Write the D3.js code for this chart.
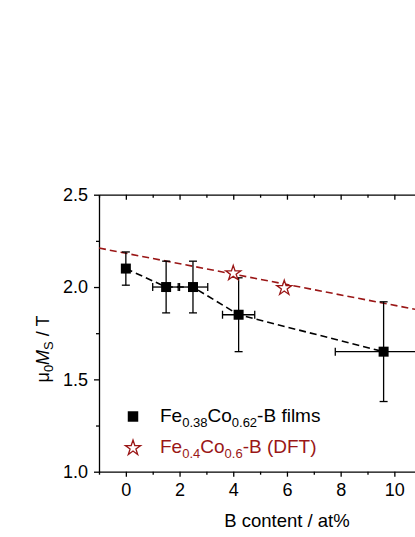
<!DOCTYPE html>
<html>
<head>
  <meta charset="UTF-8" />
  <title>Saturation magnetisation vs B content</title>
  <script src="https://d3js.org/d3.v7.min.js"></script>
  <style>
    body { margin: 0; background: #fff; }
    svg text { font-family: "Liberation Sans", Arial, sans-serif; }
  </style>
</head>
<body>
<div id="chart"></div>

<script>
  // measured films, Fe0.38Co0.62-B
  var filmB = [0, 1.5, 2.5, 4.2, 9.6];
  var filmMs = [2.10, 2.00, 2.00, 1.85, 1.65];
  var filmMsErr = [0.09, 0.14, 0.14, 0.20, 0.27];
  var filmBErr = [0, 0.5, 0.55, 0.6, 1.8];

  // DFT, Fe0.4Co0.6-B
  var dftB = [4.0, 5.9];
  var dftMs = [2.08, 2.00];
  // dashed guide for the DFT values
  var dftLineB = [-1, 11];
  var dftLineMs = [2.211, 1.873];

  var xMajor = [0, 2, 4, 6, 8, 10];
  var xMinor = [-1, 1, 3, 5, 7, 9, 11];
  var yMajor = [1.0, 1.5, 2.0, 2.5];
  var yMinor = [1.25, 1.75, 2.25];

  var wine = "#9a1616";

  var films = filmB.map((b, i) => ({ b: b, ms: filmMs[i], ey: filmMsErr[i], ex: filmBErr[i] }));
  var dft = dftB.map((b, i) => ({ b: b, ms: dftMs[i] }));
  var dftLine = dftLineB.map((b, i) => ({ b: b, ms: dftLineMs[i] }));

  const svg = d3.select("#chart")
    .append("svg")
    .attr("width", 415)
    .attr("height", 537)

  var xScale = d3.scaleLinear().domain([-1, 11]).range([99, 421.2]);
  var yScale = d3.scaleLinear().domain([1.0, 2.5]).range([471.7, 194.7]);

  // axes
  function styleAxis(g) {
    g.selectAll("path, line").attr("stroke", "#000").attr("stroke-width", 1.3);
    g.selectAll("text").attr("fill", "#000").style("font-size", "18px");
  }

  svg.append("g")
    .attr("transform", "translate(0," + yScale(1.0) + ")")
    .call(d3.axisBottom(xScale).tickValues(xMajor).tickSize(5).tickSizeOuter(0).tickPadding(7).tickFormat(d3.format("d")))
    .call(styleAxis);
  svg.append("g")
    .attr("transform", "translate(0," + yScale(1.0) + ")")
    .call(d3.axisBottom(xScale).tickValues(xMinor).tickSize(3).tickFormat(""))
    .call(styleAxis)
    .select(".domain").remove();

  // top axis, ticks pointing inside
  svg.append("g")
    .attr("transform", "translate(0," + yScale(2.5) + ")")
    .call(d3.axisBottom(xScale).tickValues(xMajor).tickSize(5).tickSizeOuter(0).tickFormat(""))
    .call(styleAxis);
  svg.append("g")
    .attr("transform", "translate(0," + yScale(2.5) + ")")
    .call(d3.axisBottom(xScale).tickValues(xMinor).tickSize(3).tickFormat(""))
    .call(styleAxis)
    .select(".domain").remove();

  svg.append("g")
    .attr("transform", "translate(" + xScale(-1) + ",0)")
    .call(d3.axisLeft(yScale).tickValues(yMajor).tickSize(5).tickSizeOuter(0).tickPadding(6).tickFormat(d3.format(".1f")))
    .call(styleAxis);
  svg.append("g")
    .attr("transform", "translate(" + xScale(-1) + ",0)")
    .call(d3.axisLeft(yScale).tickValues(yMinor).tickSize(3).tickFormat(""))
    .call(styleAxis)
    .select(".domain").remove();

  // axis titles
  svg.append("text")
    .attr("x", xScale(6))
    .attr("y", 527)
    .attr("text-anchor", "middle")
    .style("font-size", "18.5px")
    .text("B content / at%");

  var yTitle = svg.append("text")
    .attr("transform", "translate(49,349) rotate(-90)")
    .attr("text-anchor", "middle")
    .style("font-size", "18px");
  yTitle.append("tspan").text("\u03bc");
  yTitle.append("tspan").attr("dy", 4).style("font-size", "13px").text("0");
  yTitle.append("tspan").attr("dy", -4).style("font-style", "italic").text("M");
  yTitle.append("tspan").attr("dy", 4).style("font-size", "13px").text("S");
  yTitle.append("tspan").attr("dy", -4).text(" / T");

  // dashed lines
  var line = d3.line().x(d => xScale(d.b)).y(d => yScale(d.ms));

  svg.append("path")
    .datum(dftLine)
    .attr("d", line)
    .attr("fill", "none")
    .attr("stroke", wine)
    .attr("stroke-width", 1.6)
    .attr("stroke-dasharray", "7,4");

  svg.append("path")
    .datum(films)
    .attr("d", line)
    .attr("fill", "none")
    .attr("stroke", "#000")
    .attr("stroke-width", 1.6)
    .attr("stroke-dasharray", "7,4");

  // error bars
  var err = svg.append("g").attr("stroke", "#000").attr("stroke-width", 1.3);
  films.forEach(d => {
    var cx = xScale(d.b), cy = yScale(d.ms);
    var y0 = yScale(d.ms - d.ey), y1 = yScale(d.ms + d.ey);
    err.append("line").attr("x1", cx).attr("x2", cx).attr("y1", y0).attr("y2", y1);
    err.append("line").attr("x1", cx - 4).attr("x2", cx + 4).attr("y1", y0).attr("y2", y0);
    err.append("line").attr("x1", cx - 4).attr("x2", cx + 4).attr("y1", y1).attr("y2", y1);
    if (d.ex > 0) {
      var x0 = xScale(d.b - d.ex), x1 = xScale(d.b + d.ex);
      err.append("line").attr("x1", x0).attr("x2", x1).attr("y1", cy).attr("y2", cy);
      err.append("line").attr("x1", x0).attr("x2", x0).attr("y1", cy - 4).attr("y2", cy + 4);
      err.append("line").attr("x1", x1).attr("x2", x1).attr("y1", cy - 4).attr("y2", cy + 4);
    }
  });

  // markers
  var square = d3.symbol().type(d3.symbolSquare).size(100);
  var star = d3.symbol().type(d3.symbolStar).size(70);

  svg.selectAll(".film")
    .data(films)
    .enter()
    .append("path")
    .attr("class", "film")
    .attr("d", square)
    .attr("transform", d => "translate(" + xScale(d.b) + "," + yScale(d.ms) + ")")
    .attr("fill", "#000");

  svg.selectAll(".dft")
    .data(dft)
    .enter()
    .append("path")
    .attr("class", "dft")
    .attr("d", star)
    .attr("transform", d => "translate(" + xScale(d.b) + "," + (yScale(d.ms) + 1) + ")")
    .attr("fill", "#fff")
    .attr("stroke", wine)
    .attr("stroke-width", 1.3);

  // legend
  var legend = svg.append("g");
  legend.append("path")
    .attr("d", d3.symbol().type(d3.symbolSquare).size(110))
    .attr("transform", "translate(133,416.5)")
    .attr("fill", "#000");
  var t1 = legend.append("text").attr("x", 160).attr("y", 421.7).style("font-size", "19px");
  t1.append("tspan").text("Fe");
  t1.append("tspan").attr("dy", 5).style("font-size", "13px").text("0.38");
  t1.append("tspan").attr("dy", -5).text("Co");
  t1.append("tspan").attr("dy", 5).style("font-size", "13px").text("0.62");
  t1.append("tspan").attr("dy", -5).text("-B films");

  legend.append("path")
    .attr("d", d3.symbol().type(d3.symbolStar).size(72))
    .attr("transform", "translate(133,448)")
    .attr("fill", "#fff")
    .attr("stroke", wine)
    .attr("stroke-width", 1.3);
  var t2 = legend.append("text").attr("x", 160).attr("y", 453.3).attr("fill", wine).style("font-size", "19px");
  t2.append("tspan").text("Fe");
  t2.append("tspan").attr("dy", 5).style("font-size", "13px").text("0.4");
  t2.append("tspan").attr("dy", -5).text("Co");
  t2.append("tspan").attr("dy", 5).style("font-size", "13px").text("0.6");
  t2.append("tspan").attr("dy", -5).text("-B (DFT)");
</script>
</body>
</html>
